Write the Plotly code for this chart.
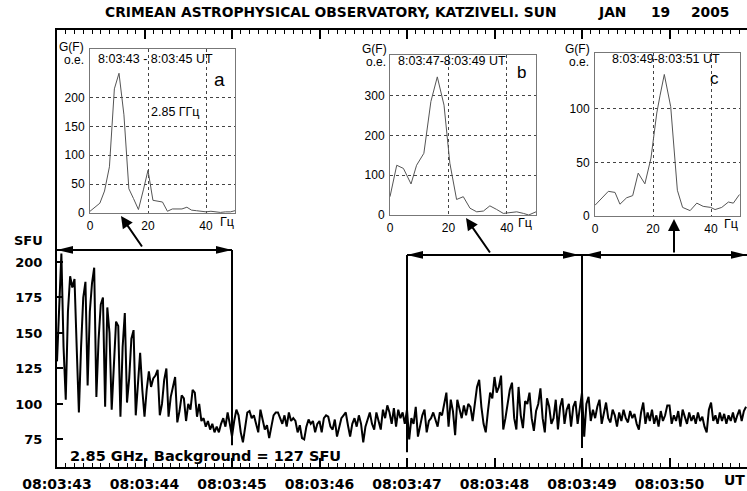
import plotly.graph_objects as go

# ---------------- DATA ----------------
time_labels = ["08:03:43", "08:03:44", "08:03:45", "08:03:46",
               "08:03:47", "08:03:48", "08:03:49", "08:03:50"]
y_ticks = [75, 100, 125, 150, 175, 200]
dt = 0.025  # s between samples

flux_s0 = [130, 175, 206, 140, 103, 165, 190, 182, 188, 140, 94, 140, 175, 186, 113, 165, 185, 196, 105, 145,
           170, 175, 98, 168, 150, 96, 130, 158, 155, 91, 140, 164, 101, 118, 146, 152, 92, 112, 136, 110]
flux_s1 = [91, 110, 123, 112, 118, 120, 124, 92, 100, 117, 125, 91, 105, 112, 119, 87, 95, 106, 104, 88,
           100, 96, 110, 108, 91, 100, 88, 90, 84, 88, 82, 86, 80, 84, 80, 86, 90, 84, 94, 86]
flux_s2 = [77, 88, 96, 92, 80, 73, 85, 94, 95, 90, 92, 85, 80, 96, 90, 82, 85, 76, 84, 92,
           94, 94, 90, 86, 92, 84, 94, 88, 90, 88, 80, 85, 76, 75, 84, 89, 86, 88, 80, 86]
flux_s3 = [88, 80, 90, 92, 91, 84, 82, 89, 77, 84, 90, 92, 94, 85, 77, 86, 90, 84, 92, 86,
           73, 84, 90, 94, 86, 82, 94, 88, 82, 96, 90, 99, 94, 86, 97, 84, 96, 90, 94, 86]
flux_s4 = [96, 75, 90, 86, 98, 77, 86, 92, 96, 80, 88, 90, 94, 88, 84, 94, 92, 100, 108, 84,
           103, 95, 78, 103, 96, 90, 99, 92, 100, 98, 88, 100, 112, 117, 98, 86, 80, 95, 108, 104]
flux_s5 = [119, 108, 112, 120, 82, 90, 100, 110, 115, 90, 82, 112, 92, 83, 102, 100, 108, 90, 81, 95,
           100, 111, 90, 80, 104, 98, 86, 90, 103, 82, 98, 104, 86, 96, 100, 84, 98, 102, 86, 96]
flux_s6 = [108, 77, 100, 105, 88, 96, 90, 98, 103, 86, 95, 101, 90, 87, 96, 92, 84, 94, 88, 96,
           90, 87, 95, 90, 93, 86, 82, 94, 101, 86, 94, 88, 96, 86, 92, 84, 95, 88, 92, 99]
flux_s7 = [99, 86, 92, 88, 95, 84, 96, 90, 86, 94, 88, 92, 86, 94, 88, 91, 84, 80, 96, 101,
           88, 92, 86, 94, 88, 93, 86, 92, 88, 94, 87, 92, 96, 88, 95, 98]

# intervals analysed (seconds after 08:03:43)
intervals = [(0, 2), (4, 6), (6, 7.886)]

# spectra (frequency Hz, G(F) o.e.)
freq_a = [0, 1.7, 3.4, 5.0, 6.7, 8.4, 10.0, 11.7, 13.4, 15.0, 16.7, 18.4, 20.0, 21.7, 23.4, 25.0,
          26.7, 28.4, 30.0, 31.7, 33.4, 35.0, 36.7, 38.4, 40.0, 41.7, 43.4, 45.0, 46.7, 48.4, 50.0]
g_a = [3, 10, 17, 38, 80, 215, 242, 170, 42, 25, 6, 40, 74, 22, 20, 19,
       3, 7, 7, 7, 10, 5, 4, 3, 2, 3, 2, 1, 2, 2, 4]
freq_b = [0, 2.3, 4.6, 7.2, 9.1, 11.6, 14.0, 16.2, 18.5, 20.5, 22.8, 25.1, 27.4, 29.7, 32.0,
          34.2, 36.5, 38.8, 41.1, 43.4, 45.7, 47.5, 50.0]
g_b = [46, 125, 117, 78, 125, 155, 285, 347, 276, 130, 39, 46, 17, 8, 10,
       23, 14, 4, 6, 8, 4, 0, 8]
freq_c = [0, 2.0, 4.6, 6.9, 8.6, 10.9, 13.0, 14.9, 17.2, 19.3, 21.3, 22.4, 23.9, 26.1, 27.6,
          28.4, 30.2, 32.8, 35.1, 37.3, 39.9, 41.4, 43.7, 46.0, 47.7, 49.8]
g_c = [10, 16, 23, 22, 11, 17, 19, 40, 30, 54, 96, 112, 132, 102, 49,
       24, 8, 5, 12, 9, 8, 6, 8, 13, 12, 20]

# ---------------- FIGURE ----------------
W, H = 747, 491
ML, MR, MT, MB = 57, 0, 30, 24
PW, PH = W - ML - MR, H - MT - MB
XMAX = PW / 87.5
YMIN, YMAX = 55.6, 363.4


def paper(xp, yp):
    return (xp - ML) / PW, (H - MB - yp) / PH


flux = flux_s0 + flux_s1 + flux_s2 + flux_s3 + flux_s4 + flux_s5 + flux_s6 + flux_s7
t = [i * dt for i in range(len(flux))]

BOLD = dict(family="DejaVu Sans", size=13, color="black", weight="bold")
SANS = "Liberation Sans"

fig = go.Figure()
fig.add_trace(go.Scatter(x=t, y=flux, mode="lines", line=dict(color="black", width=2),
                         showlegend=False, hoverinfo="skip"))

layout = dict(
    width=W, height=H, margin=dict(l=ML, r=MR, t=MT, b=MB, pad=0),
    paper_bgcolor="white", plot_bgcolor="white", showlegend=False,
    xaxis=dict(range=[0, XMAX], tickvals=list(range(len(time_labels))), ticktext=time_labels,
               showgrid=False, zeroline=False, showline=True, linecolor="black", linewidth=1.5,
               mirror="ticks", ticks="inside", ticklen=9, tickwidth=1.5, tickcolor="black",
               minor=dict(dtick=0.1, ticks="inside", ticklen=4, tickwidth=1, tickcolor="black",
                          showgrid=False),
               tickfont=dict(family="DejaVu Sans", size=14, color="black", weight="bold"),
               ticklabelstandoff=3),
    yaxis=dict(range=[YMIN, YMAX], tickvals=y_ticks, showgrid=False, zeroline=False,
               showline=True, linecolor="black", linewidth=2, ticks="inside", ticklen=6,
               tickwidth=1.5, tickcolor="black",
               tickfont=dict(family="DejaVu Sans", size=13, color="black", weight="bold"),
               ticklabelstandoff=10),
)

shapes = []
annotations = []

# brackets with arrowheads
bracket_y = [208.5, 205, 205]
vline_bottom = {2: 71, 4: 66, 6: 69}
for (a, b), yb in zip(intervals, bracket_y):
    shapes.append(dict(type="line", xref="x", yref="y", x0=a, x1=b, y0=yb, y1=yb,
                       line=dict(color="black", width=2)))
    for xa, d in ((a, 1), (b, -1)):
        off = 3 * d if xa == 6 else 0
        shapes.append(dict(type="path", xref="x", yref="y", xsizemode="pixel", ysizemode="pixel",
                           xanchor=xa, yanchor=yb,
                           path=f"M {off},0 L {off + 16 * d},3.8 L {off + 16 * d},-3.8 Z",
                           fillcolor="black", line=dict(width=0)))
for xv, yb in vline_bottom.items():
    shapes.append(dict(type="line", xref="x", yref="y", x0=xv, x1=xv, y0=yb,
                       y1=208.5 if xv == 2 else 205, line=dict(color="black", width=2)))

# pointer arrows to insets
for tip, tail in (((121, 216), (143, 248)), ((466, 218), (491, 254)), ((674, 219), (674, 254))):
    px_, py_ = paper(*tip)
    annotations.append(dict(xref="paper", yref="paper", x=px_, y=py_, text="", showarrow=True,
                            ax=tail[0] - tip[0], ay=tail[1] - tip[1], arrowhead=2,
                            arrowsize=1.2, arrowwidth=2, arrowcolor="black"))

# insets
insets = [
    dict(box=(90, 235, 49, 213), f=freq_a, g=g_a, yr=284, yt=[0, 50, 100, 150, 200],
         label="8:03:43 - 8:03:45 UT", lab_xy=(155, 59), letter="a", let_xy=(219, 80), let_size=19,
         gf=(71, 47), oe=(74, 60), hz=(227, 222)),
    dict(box=(390, 536, 55, 215), f=freq_b, g=g_b, yr=402, yt=[0, 100, 200, 300],
         label="8:03:47-8:03:49 UT", lab_xy=(452, 61), letter="b", let_xy=(521, 72), let_size=17,
         gf=(374, 49), oe=(376, 62), hz=(525, 223)),
    dict(box=(595, 740, 53, 216), f=freq_c, g=g_c, yr=152, yt=[0, 50, 100],
         label="8:03:49-8:03:51 UT", lab_xy=(666, 59), letter="c", let_xy=(714, 78), let_size=17,
         gf=(577, 49), oe=(579, 62), hz=(731, 224)),
]
small = dict(family=SANS, size=12, color="black")
mid = dict(family=SANS, size=12.5, color="black")
for k, ins in enumerate(insets, start=2):
    x0p, x1p, y0p, y1p = ins["box"]
    dx0, dy1 = paper(x0p, y0p)
    dx1, dy0 = paper(x1p, y1p)
    fig.add_trace(go.Scatter(x=ins["f"], y=ins["g"], xaxis=f"x{k}", yaxis=f"y{k}", mode="lines",
                             line=dict(color="#555555", width=1), showlegend=False,
                             hoverinfo="skip", cliponaxis=True))
    layout[f"xaxis{k}"] = dict(domain=[dx0, dx1], anchor=f"y{k}", range=[0, 50], tickvals=[0, 20, 40],
                               showgrid=True, griddash="dot", gridcolor="#444444", gridwidth=1,
                               zeroline=False, showline=True, linecolor="#777777", linewidth=1,
                               mirror=True, ticks="", tickfont=small, ticklabelstandoff=2)
    layout[f"yaxis{k}"] = dict(domain=[dy0, dy1], anchor=f"x{k}", range=[0, ins["yr"]],
                               tickvals=ins["yt"], showgrid=True, griddash="dot", gridcolor="#444444",
                               gridwidth=1, zeroline=False, showline=True, linecolor="#777777",
                               linewidth=1, mirror=True, ticks="", tickfont=small,
                               ticklabelstandoff=2)
    for txt, xy, fnt in ((ins["label"], ins["lab_xy"], mid),
                         (ins["letter"], ins["let_xy"], dict(family=SANS, size=ins["let_size"], color="black")),
                         ("G(F)", ins["gf"], small), ("o.e.", ins["oe"], small), ("Гц", ins["hz"], mid)):
        ax_, ay_ = paper(*xy)
        annotations.append(dict(xref="paper", yref="paper", x=ax_, y=ay_, text=txt, showarrow=False,
                                xanchor="center", yanchor="middle", font=fnt,
                                bgcolor="rgba(0,0,0,0)"))

ax_, ay_ = paper(175, 112)
annotations.append(dict(xref="paper", yref="paper", x=ax_, y=ay_, text="2.85 ГГц", showarrow=False,
                        xanchor="center", yanchor="middle", font=mid))

# title pieces & other texts
BIG = dict(BOLD, size=13.8)
for txt, xl, yc, fnt in (("CRIMEAN ASTROPHYSICAL OBSERVATORY, KATZIVELI. SUN", 103, 12, BIG),
                         ("JAN", 596, 12, BIG), ("19", 649, 12, BIG), ("2005", 689, 12, BIG),
                         ("2.85 GHz. Background = 127 SFU", 68, 456, dict(BOLD, size=14.5)),
                         ("SFU", 12, 240, BOLD), ("UT", 722, 480, dict(BOLD, size=14))):
    ax_, ay_ = paper(xl, yc)
    annotations.append(dict(xref="paper", yref="paper", x=ax_, y=ay_, text=txt, showarrow=False,
                            xanchor="left", yanchor="middle", font=fnt))

layout["shapes"] = shapes
layout["annotations"] = annotations
fig.update_layout(**layout)
fig.write_html("out.html")
